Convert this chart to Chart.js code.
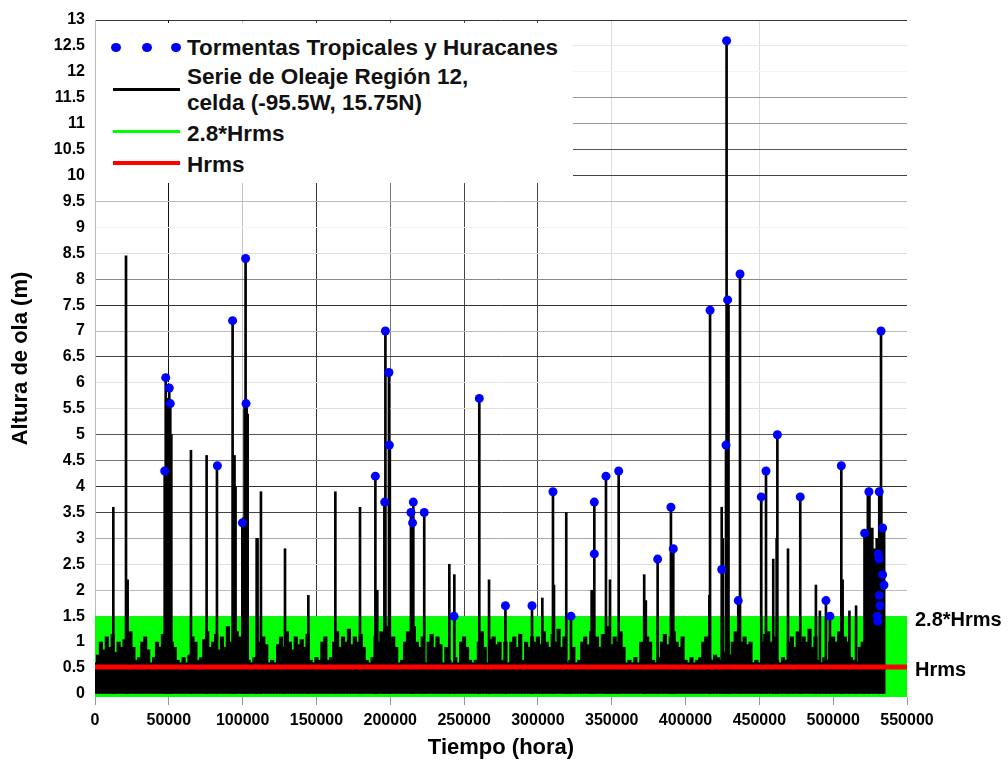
<!DOCTYPE html>
<html>
<head>
<meta charset="utf-8">
<title>Altura de ola - Región 12</title>
<script src="https://cdn.jsdelivr.net/npm/chart.js@4.4.1/dist/chart.umd.min.js"></script>
<style>
  body { margin: 0; background: #fff; }
  #wrap { position: relative; width: 1008px; height: 763px; }
  #legend {
    position: absolute; left: 96px; top: 23px; width: 477px; height: 160px;
    background: #fff; color: #111;
    font: bold 22.5px "Liberation Sans", Arial, sans-serif;
  }
  #legend .dot { position: absolute; top: 20px; width: 10px; height: 9px; border-radius: 50%; background: #0000ff; }
  #legend .ln { position: absolute; left: 17px; width: 67px; }
  #legend .tx { position: absolute; left: 91px; line-height: 26px; white-space: nowrap; }
</style>
</head>
<body>
<div id="wrap">
  <canvas id="olaChart" width="1008" height="763"></canvas>
  <div id="legend">
    <span class="dot" style="left:15px"></span>
    <span class="dot" style="left:45.7px"></span>
    <span class="dot" style="left:75px"></span>
    <div class="tx" style="top:12px">Tormentas Tropicales y Huracanes</div>
    <span class="ln" style="top:64.5px;height:3px;background:#000"></span>
    <div class="tx" style="top:40.5px">Serie de Oleaje Región 12,<br>celda (-95.5W, 15.75N)</div>
    <span class="ln" style="top:107px;height:3px;background:#00ff00"></span>
    <div class="tx" style="top:98px">2.8*Hrms</div>
    <span class="ln" style="top:138px;height:4px;background:#ff0000"></span>
    <div class="tx" style="top:129px">Hrms</div>
  </div>
</div>
<script>
// serie de fondo: altura maxima por bloque de 2000 horas
var stepHours = 2000;
var baseHeights = [
  0.6, 0.75, 1.0, 0.85, 1.1, 0.9, 1.15, 0.8, 1.0, 0.9,
  1.05, 0.85, 1.2, 0.9, 0.65, 0.7, 1.0, 1.1, 0.85, 0.6,
  0.7, 1.0, 0.9, 1.15, 0.95, 1.2, 1.0, 0.9, 0.65, 0.6,
  0.7, 0.6, 0.75, 1.1, 1.0, 0.65, 0.7, 1.05, 1.2, 0.9,
  1.0, 1.15, 0.85, 1.1, 0.9, 1.3, 1.0, 0.95, 1.2, 1.1,
  1.0, 0.9, 0.65, 0.6, 0.7, 0.65, 1.0, 1.1, 0.95, 0.6,
  0.65, 0.6, 0.95, 1.1, 0.9, 1.2, 1.0, 0.85, 1.1, 0.95,
  1.05, 0.9, 1.15, 0.65, 0.6, 0.7, 0.65, 1.0, 1.1, 0.65,
  0.7, 1.0, 1.2, 0.9, 1.1, 1.0, 1.25, 0.95, 1.1, 1.0,
  1.15, 0.9, 0.65, 0.6, 0.7, 1.1, 1.0, 1.2, 1.1, 1.3,
  1.0, 1.1, 0.9, 0.6, 0.65, 1.0, 1.2, 1.1, 1.3, 1.0,
  0.9, 1.1, 0.6, 1.0, 1.15, 0.9, 1.1, 0.95, 0.6, 0.9,
  0.65, 0.6, 0.7, 0.6, 1.0, 1.1, 0.9, 0.65, 0.6, 0.65,
  1.0, 1.2, 0.9, 0.6, 1.05, 1.1, 0.95, 1.0, 0.65, 1.0,
  0.6, 1.0, 1.1, 0.9, 1.15, 0.65, 1.0, 0.9, 1.1, 1.0,
  1.1, 0.95, 1.2, 1.0, 0.9, 1.15, 1.0, 1.25, 0.9, 1.1,
  0.6, 0.65, 0.9, 0.6, 0.65, 1.0, 1.1, 0.95, 1.2, 1.0,
  1.1, 0.9, 1.15, 1.0, 1.3, 0.95, 1.1, 1.0, 1.2, 0.9,
  0.6, 0.65, 0.6, 0.7, 0.6, 1.0, 0.9, 1.1, 1.0, 0.65,
  0.6, 0.7, 1.0, 1.15, 0.95, 1.1, 1.2, 1.0, 0.9, 1.1,
  0.65, 0.6, 0.7, 0.6, 0.65, 0.7, 1.0, 1.1, 0.7, 0.65,
  0.75, 0.7, 0.65, 0.8, 0.7, 0.75, 1.0, 1.2, 1.1, 1.0,
  1.1, 0.95, 1.0, 0.6, 0.65, 0.6, 1.0, 1.15, 1.2, 1.0,
  1.1, 0.65, 0.6, 0.7, 0.65, 1.0, 1.1, 0.9, 1.2, 1.0,
  1.1, 1.0, 1.25, 0.9, 1.1, 0.65, 0.6, 0.7, 0.65, 1.0,
  1.1, 1.0, 1.2, 0.95, 1.1, 1.0, 0.7, 0.65, 0.6, 0.9,
  1.0, 3.1, 3.9, 3.2, 2.8, 3.0, 3.9, 3.2
];

// picos de oleaje (hora, altura m)
var spikeHours = [
  12400, 21000, 22100, 47200, 47900, 48600, 49300, 50300, 51000, 51700,
  65000, 75600, 82600, 93200, 94500, 95200, 99800, 100600, 101300, 102000,
  102700, 103400, 109500, 110100, 112400, 128700, 144500, 162800, 179500, 189900,
  191200, 196000, 196700, 199100, 199700, 214000, 214600, 215200, 215600, 223000,
  240000, 243400, 260300, 266900, 278000, 296000, 303000, 310200, 310900, 319200,
  322400, 336400, 338200, 346100, 348800, 354700, 372000, 373100, 381100, 390100,
  391700, 416100, 416600, 424500, 425300, 427400, 427800, 428500, 429100, 435700,
  436900, 451300, 454500, 459400, 461700, 462200, 469400, 477700, 488300, 491000,
  495100, 497800, 505500, 506400, 511000, 515500, 521300, 524200, 531200, 532400,
  533500
];
var spikeHeights = [
  3.6, 8.45, 2.2, 4.3, 6.1, 5.7, 5.5, 5.9, 5.6, 5.0,
  4.7, 4.6, 4.4, 7.2, 4.6, 4.0, 3.3, 3.4, 5.6, 8.4,
  5.6, 5.4, 3.0, 3.0, 3.9, 2.8, 1.9, 3.9, 3.6, 4.2,
  2.0, 3.7, 7.0, 6.2, 4.8, 3.5, 3.3, 3.4, 3.7, 3.5,
  2.5, 2.3, 5.7, 2.2, 1.7, 1.7, 1.85, 3.9, 2.1, 3.5,
  1.5, 2.0, 3.7, 4.2, 2.2, 4.3, 2.3, 1.8, 2.6, 3.6,
  2.8, 1.9, 7.4, 3.6, 3.0, 4.8, 12.6, 7.6, 7.5, 1.8,
  8.1, 3.8, 4.3, 2.6, 3.0, 5.0, 2.8, 3.8, 2.1, 1.6,
  1.8, 1.5, 4.4, 2.2, 1.6, 1.7, 3.1, 3.9, 3.9, 7.0,
  3.2
];

// tormentas tropicales y huracanes (hora, altura m)
var stormHours = [
  47200, 47900, 50300, 51000, 82900, 93200, 99800, 102000, 102300, 189900,
  196200, 196700, 199100, 199400, 214000, 215100, 215600, 223000, 243200, 260300,
  278000, 296000, 310200, 322400, 338200, 338200, 346100, 354700, 381100, 390100,
  391700, 416600, 424500, 427400, 427800, 428500, 435700, 436900, 451300, 454500,
  462200, 477700, 495100, 497800, 505500, 521300, 524200, 529900, 530200, 530500,
  531000, 531200, 531200, 531700, 532400, 533500, 533500, 534400
];
var stormHeights = [
  4.3, 6.1, 5.9, 5.6, 4.4, 7.2, 3.3, 8.4, 5.6, 4.2,
  3.7, 7.0, 6.2, 4.8, 3.5, 3.3, 3.7, 3.5, 1.5, 5.7,
  1.7, 1.7, 3.9, 1.5, 3.7, 2.7, 4.2, 4.3, 2.6, 3.6,
  2.8, 7.4, 2.4, 4.8, 12.6, 7.6, 1.8, 8.1, 3.8, 4.3,
  5.0, 3.8, 1.8, 1.5, 4.4, 3.1, 3.9, 1.5, 1.4, 2.7,
  2.6, 3.9, 1.9, 1.7, 7.0, 3.2, 2.3, 2.1
];

var hrms = 0.52;
var limit28 = 1.5;
var xStart = 0;
var xEnd = 550000;

var xTicks = [0, 50000, 100000, 150000, 200000, 250000, 300000, 350000, 400000, 450000, 500000, 550000];
var yTicks = [0, 0.5, 1, 1.5, 2, 2.5, 3, 3.5, 4, 4.5, 5, 5.5, 6, 6.5, 7, 7.5, 8, 8.5, 9, 9.5,
  10, 10.5, 11, 11.5, 12, 12.5, 13];

// tonos de la rejilla, uno por marca
var xGridShade = ['#bbb', '#111', '#c4c4c4', '#333', '#777', '#444', '#444', '#ddd',
  'rgba(0,0,0,0)', '#ddd', 'rgba(0,0,0,0)', 'rgba(0,0,0,0)'];
var yGridShade = ['#222', 'rgba(0,0,0,0)', '#222', '#999', '#bbb', '#ddd', '#aaa', '#444', '#333', '#777',
  '#555', '#e0e0e0', '#e6e6e6', '#444', '#bbb', '#333', '#888', '#ddd', '#f4f4f4', '#bbb',
  '#444', '#555', '#999', '#999', '#f4f4f4', '#e8e8e8', '#333'];

var waveData = baseHeights.map(function (v, i) { return { x: i * stepHours, y: v }; });
var spikeData = spikeHours.map(function (h, i) { return { x: h, y: spikeHeights[i] }; });
var stormData = stormHours.map(function (h, i) { return { x: h, y: stormHeights[i] }; });

Chart.defaults.font.family = '"Liberation Sans", Arial, sans-serif';
Chart.defaults.color = '#000';

var ctx = document.getElementById('olaChart').getContext('2d');
var olaChart = new Chart(ctx, {
  type: 'line',
  data: {
    datasets: [
      {
        label: '2.8*Hrms',
        data: [{ x: xStart, y: limit28 }, { x: xEnd, y: limit28 }],
        borderWidth: 0,
        pointRadius: 0,
        fill: 'start',
        backgroundColor: '#00ff00',
        order: 5
      },
      {
        type: 'bar',
        label: 'Serie de Oleaje Región 12',
        data: waveData,
        backgroundColor: '#000',
        barThickness: 3.5,
        grouped: false,
        order: 4
      },
      {
        type: 'bar',
        label: 'Serie de Oleaje Región 12 (picos)',
        data: spikeData,
        backgroundColor: '#000',
        barThickness: 2,
        grouped: false,
        order: 3
      },
      {
        label: 'Hrms',
        data: [{ x: xStart, y: hrms }, { x: xEnd, y: hrms }],
        borderColor: '#ff0000',
        borderWidth: 5,
        pointRadius: 0,
        fill: false,
        order: 2
      },
      {
        label: 'Tormentas Tropicales y Huracanes',
        data: stormData,
        showLine: false,
        pointRadius: 4.5,
        pointBorderWidth: 0,
        pointBackgroundColor: '#0000ff',
        order: 1
      }
    ]
  },
  options: {
    responsive: false,
    animation: false,
    events: [],
    layout: { padding: { top: 18, right: 0, bottom: 0, left: 0 } },
    plugins: {
      legend: { display: false },
      tooltip: { enabled: false }
    },
    scales: {
      x: {
        type: 'linear',
        min: xStart,
        max: xEnd,
        offset: false,
        afterBuildTicks: function (axis) {
          axis.ticks = xTicks.map(function (v) { return { value: v }; });
        },
        afterFit: function (s) { s.height = 66; },
        grid: {
          offset: false,
          color: function (c) { return xGridShade[c.index]; },
          tickColor: '#999',
          tickLength: 8
        },
        border: { display: false },
        ticks: {
          autoSkip: false,
          maxRotation: 0,
          padding: 6,
          font: { size: 16, weight: 'bold' },
          callback: function (v) { return String(v); }
        },
        title: {
          display: true,
          text: 'Tiempo (hora)',
          font: { size: 22, weight: 'bold' },
          padding: { top: 0, bottom: 2 }
        }
      },
      y: {
        type: 'linear',
        min: -0.06,
        max: 13,
        z: 1,
        afterBuildTicks: function (axis) {
          axis.ticks = yTicks.map(function (v) { return { value: v }; });
        },
        afterFit: function (s) { s.width = 95; },
        grid: {
          color: function (c) { return yGridShade[c.index]; },
          drawTicks: false
        },
        border: { color: '#bbb' },
        ticks: {
          padding: 10,
          font: { size: 16, weight: 'bold' },
          callback: function (v) { return String(v); }
        },
        title: {
          display: true,
          text: 'Altura de ola (m)',
          font: { size: 22, weight: 'bold' },
          padding: { top: 8, bottom: 0 }
        }
      },
      y2: {
        type: 'linear',
        position: 'right',
        min: -0.06,
        max: 13,
        afterBuildTicks: function (axis) {
          axis.ticks = [{ value: limit28 }, { value: hrms }];
        },
        afterFit: function (s) { s.width = 101; },
        grid: { display: false, drawTicks: false },
        border: { display: false },
        ticks: {
          padding: 8,
          labelOffset: 4,
          font: { size: 20, weight: 'bold' },
          callback: function (v) { return v === hrms ? 'Hrms' : '2.8*Hrms'; }
        }
      }
    }
  }
});
</script>
</body>
</html>
